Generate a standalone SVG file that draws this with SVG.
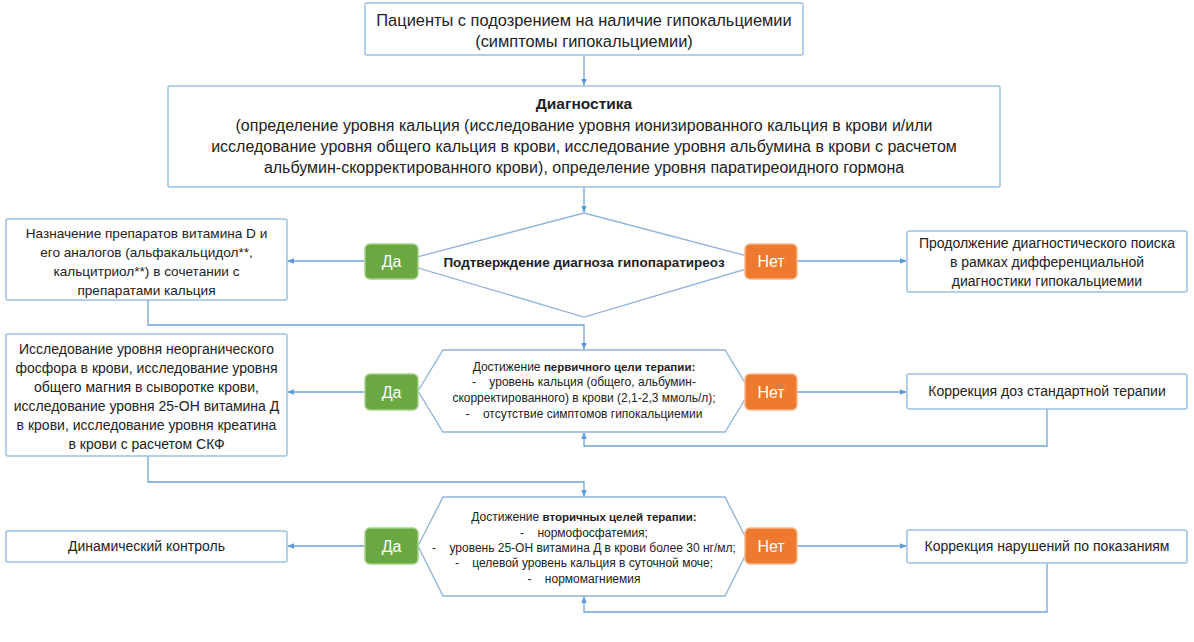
<svg xmlns="http://www.w3.org/2000/svg" width="1194" height="642" viewBox="0 0 1194 642">
<defs>
<marker id="ah" viewBox="0 0 10 10" refX="9" refY="5" markerWidth="7" markerHeight="7" markerUnits="userSpaceOnUse" orient="auto">
<path d="M0,1 L10,5 L0,9 z" fill="#5b9bd5"/>
</marker>
<style>
.box{fill:#ffffff;stroke:#9dc0e2;stroke-width:1.5}
.shape{fill:#ffffff;stroke:#8fb3d9;stroke-width:1.3}
.t{font-family:"Liberation Sans",Arial,sans-serif;fill:#222;text-anchor:middle}
.b{font-weight:bold}
.h{font-size:12px}
.hb{font-size:11.5px;font-weight:bold}
.m{font-size:14px}
.yes{fill:#6aa842;stroke:#a6cf8a;stroke-width:1.5}
.no{fill:#ed7a2f;stroke:#f6b88a;stroke-width:1.5}
.yn{font-family:"Liberation Sans",Arial,sans-serif;fill:#ffffff;font-size:16px;text-anchor:middle}
.c{fill:none;stroke:#6fa3d8;stroke-width:1.3}
</style>
</defs>
<rect width="1194" height="642" fill="#ffffff"/>

<g id="connectors">
<path class="c" d="M584,55 V85" marker-end="url(#ah)"/>
<path class="c" d="M584,187 V212" marker-end="url(#ah)"/>
<path class="c" d="M365,261 H288" marker-end="url(#ah)"/>
<path class="c" d="M797,261 H906" marker-end="url(#ah)"/>
<path class="c" d="M148,300 V325 H584 V349" marker-end="url(#ah)"/>
<path class="c" d="M365,392 H288" marker-end="url(#ah)"/>
<path class="c" d="M797,392 H906" marker-end="url(#ah)"/>
<path class="c" d="M1047,409 V446 H584 V433" marker-end="url(#ah)"/>
<path class="c" d="M148,456 V482 H584 V496" marker-end="url(#ah)"/>
<path class="c" d="M365,546 H288" marker-end="url(#ah)"/>
<path class="c" d="M797,546 H906" marker-end="url(#ah)"/>
<path class="c" d="M1047,563 V612 H584 V597" marker-end="url(#ah)"/>
</g>

<g id="patients">
<rect class="box" x="365" y="3" width="438" height="52" rx="2"/>
<text class="t" font-size="16.4" x="584" y="26">Пациенты с подозрением на наличие гипокальциемии</text>
<text class="t" font-size="16.4" x="584" y="47">(симптомы гипокальциемии)</text>
</g>

<g id="diagnostics">
<rect class="box" x="168" y="86" width="832" height="101" rx="2"/>
<text class="t b" font-size="15.5" x="584" y="109">Диагностика</text>
<text class="t" font-size="16" x="584" y="131">(определение уровня кальция (исследование уровня ионизированного кальция в крови и/или</text>
<text class="t" font-size="16" x="584" y="152">исследование уровня общего кальция в крови, исследование уровня альбумина в крови с расчетом</text>
<text class="t" font-size="16" x="584" y="173">альбумин-скорректированного крови), определение уровня паратиреоидного гормона</text>
</g>

<g id="decision1">
<polygon class="shape" points="584,213 770,262 584,317 398,262"/>
<text class="t b" font-size="13.5" x="584" y="267">Подтверждение диагноза гипопаратиреоз</text>
</g>

<g id="yes1">
<rect class="yes" x="365" y="244" width="53" height="35" rx="5"/>
<text class="yn" x="391.5" y="267">Да</text>
</g>
<g id="no1">
<rect class="no" x="745" y="244" width="52" height="35" rx="5"/>
<text class="yn" x="771" y="267">Нет</text>
</g>

<g id="vitaminD">
<rect class="box" x="6" y="219" width="281" height="81" rx="2"/>
<text class="t" font-size="13.6" x="146.5" y="238">Назначение препаратов витамина D и</text>
<text class="t" font-size="13.6" x="146.5" y="257">его аналогов (альфакальцидол**,</text>
<text class="t" font-size="13.6" x="146.5" y="276">кальцитриол**) в сочетании с</text>
<text class="t" font-size="13.6" x="146.5" y="295">препаратами кальция</text>
</g>

<g id="continueSearch">
<rect class="box" x="907" y="231" width="280" height="61" rx="2"/>
<text class="t m" x="1047" y="248">Продолжение диагностического поиска</text>
<text class="t m" x="1047" y="267">в рамках дифференциальной</text>
<text class="t m" x="1047" y="286">диагностики гипокальциемии</text>
</g>

<g id="decision2">
<polygon class="shape" points="418,391 443,350 725,350 750,391 725,432 443,432"/>
<text class="t h" x="584" y="371">Достижение <tspan class="hb">первичного цели терапии:</tspan></text>
<text class="t h" x="584" y="386">-&#160;&#160;&#160;&#160;уровень кальция (общего, альбумин-</text>
<text class="t h" x="584" y="402">скорректированного) в крови (2,1-2,3 ммоль/л);</text>
<text class="t h" x="584" y="418">-&#160;&#160;&#160;&#160;отсутствие симптомов гипокальциемии</text>
</g>

<g id="yes2">
<rect class="yes" x="365" y="374" width="53" height="36" rx="5"/>
<text class="yn" x="391.5" y="398">Да</text>
</g>
<g id="no2">
<rect class="no" x="745" y="374" width="52" height="36" rx="5"/>
<text class="yn" x="771" y="398">Нет</text>
</g>

<g id="labTests">
<rect class="box" x="6" y="334" width="281" height="122" rx="2"/>
<text class="t m" x="146.5" y="354">Исследование уровня неорганического</text>
<text class="t m" x="146.5" y="373">фосфора в крови, исследование уровня</text>
<text class="t m" x="146.5" y="392">общего магния в сыворотке крови,</text>
<text class="t m" x="146.5" y="411">исследование уровня 25-ОН витамина Д</text>
<text class="t m" x="146.5" y="430">в крови, исследование уровня креатина</text>
<text class="t m" x="146.5" y="449">в крови с расчетом СКФ</text>
</g>

<g id="doseCorrection">
<rect class="box" x="907" y="374" width="280" height="35" rx="2"/>
<text class="t m" x="1047" y="396">Коррекция доз стандартной терапии</text>
</g>

<g id="decision3">
<polygon class="shape" points="418,546 443,497 725,497 750,546 725,596 443,596"/>
<text class="t h" x="584" y="521">Достижение <tspan class="hb">вторичных целей терапии:</tspan></text>
<text class="t h" x="584" y="537">-&#160;&#160;&#160;&#160;нормофосфатемия;</text>
<text class="t h" x="584" y="552">-&#160;&#160;&#160;&#160;уровень 25-ОН витамина Д в крови более 30 нг/мл;</text>
<text class="t h" x="584" y="567">-&#160;&#160;&#160;&#160;целевой уровень кальция в суточной моче;</text>
<text class="t h" x="584" y="583">-&#160;&#160;&#160;&#160;нормомагниемия</text>
</g>

<g id="yes3">
<rect class="yes" x="365" y="528" width="53" height="36" rx="5"/>
<text class="yn" x="391.5" y="552">Да</text>
</g>
<g id="no3">
<rect class="no" x="745" y="528" width="52" height="36" rx="5"/>
<text class="yn" x="771" y="552">Нет</text>
</g>

<g id="dynamicControl">
<rect class="box" x="6" y="531" width="281" height="31" rx="2"/>
<text class="t m" x="146.5" y="551">Динамический контроль</text>
</g>

<g id="disorderCorrection">
<rect class="box" x="907" y="530" width="280" height="33" rx="2"/>
<text class="t m" x="1047" y="551">Коррекция нарушений по показаниям</text>
</g>
</svg>
